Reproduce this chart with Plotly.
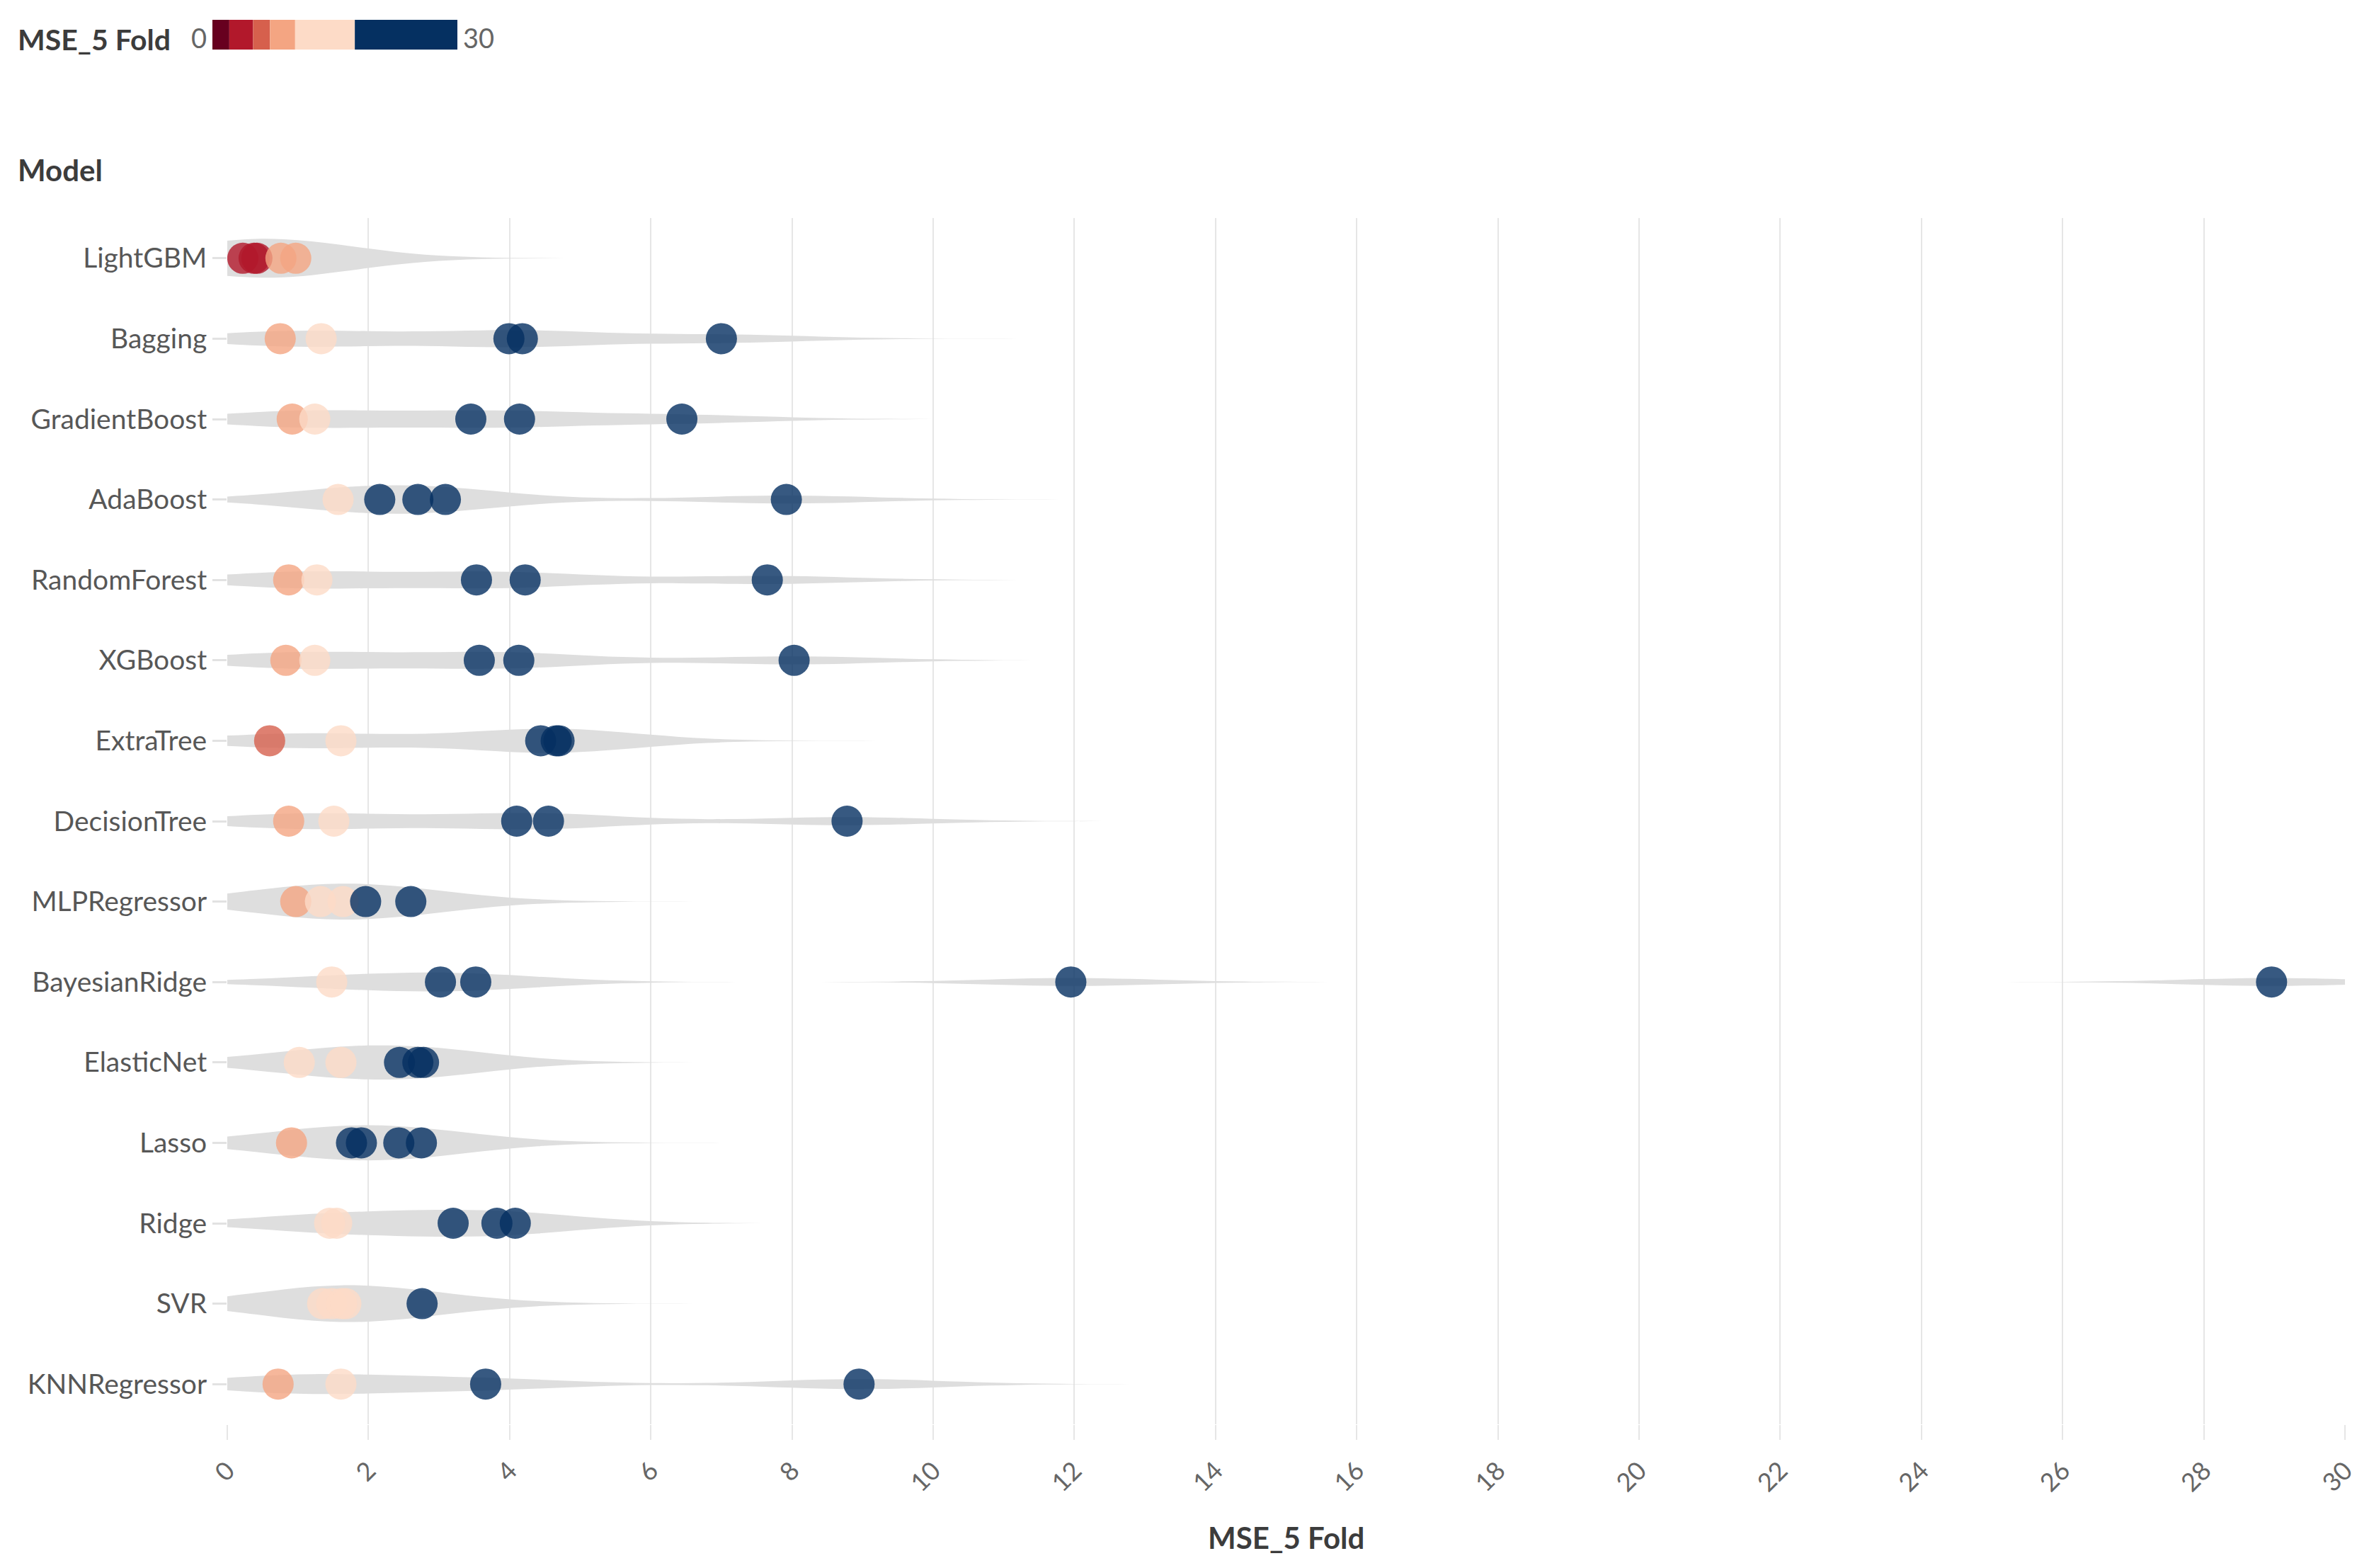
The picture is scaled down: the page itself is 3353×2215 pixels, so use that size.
import plotly.graph_objects as go

# ---------------- data ----------------
models = ["LightGBM", "Bagging", "GradientBoost", "AdaBoost", "RandomForest", "XGBoost",
          "ExtraTree", "DecisionTree", "MLPRegressor", "BayesianRidge", "ElasticNet",
          "Lasso", "Ridge", "SVR", "KNNRegressor"]

mse_lightgbm = [0.22, 0.38, 0.42, 0.76, 0.97]
mse_bagging = [0.75, 1.33, 3.99, 4.18, 7.00]
mse_gradientboost = [0.92, 1.24, 3.45, 4.14, 6.44]
mse_adaboost = [1.57, 2.16, 2.70, 3.09, 7.92]
mse_randomforest = [0.87, 1.27, 3.53, 4.22, 7.65]
mse_xgboost = [0.83, 1.24, 3.57, 4.13, 8.03]
mse_extratree = [0.60, 1.61, 4.44, 4.66, 4.70]
mse_decisiontree = [0.87, 1.51, 4.10, 4.55, 8.78]
mse_mlp = [0.97, 1.32, 1.64, 1.96, 2.60]
mse_bayesianridge = [1.48, 3.02, 3.52, 11.95, 28.96]
mse_elasticnet = [1.02, 1.61, 2.44, 2.70, 2.78]
mse_lasso = [0.91, 1.76, 1.90, 2.43, 2.75]
mse_ridge = [1.45, 1.55, 3.20, 3.82, 4.08]
mse_svr = [1.35, 1.48, 1.62, 1.68, 2.76]
mse_knn = [0.72, 1.61, 3.66, 8.95]

mse_by_model = [mse_lightgbm, mse_bagging, mse_gradientboost, mse_adaboost, mse_randomforest,
                mse_xgboost, mse_extratree, mse_decisiontree, mse_mlp, mse_bayesianridge,
                mse_elasticnet, mse_lasso, mse_ridge, mse_svr, mse_knn]

x_ticks = list(range(0, 31, 2))

# colour bins for the points (upper bounds) and their colours
color_bounds = [0.5, 0.7, 1.0, 1.75, 1e9]
color_bins = ["#b2182b", "#d6604d", "#f4a582", "#fddbc7", "#053061"]

# legend colour bar bands (0 – 30 scale)
legend_edges = [0, 2.07, 4.98, 7.05, 10.13, 17.44, 30]
legend_colors = ["#67001f", "#b2182b", "#d6604d", "#f4a582", "#fddbc7", "#053061"]

# ---------------- build ----------------
xs, ys = [], []
for m, vals in zip(models, mse_by_model):
    for v in vals:
        xs.append(v)
        ys.append(m)


def pick_color(v):
    for b, c in zip(color_bounds, color_bins):
        if v < b:
            return c
    return color_bins[-1]


pt_colors = [pick_color(v) for v in xs]

# page has an 8px body margin: size the figure so it fits the window exactly
OFF = 8
W, H = 3353 - 2 * OFF, 2215 - 2 * OFF


def fx(p):  # screen x pixel -> paper fraction
    return (p - OFF) / W


def fy(p):  # screen y pixel -> paper fraction (from bottom)
    return 1 - (p - OFF) / H


px0, px1 = 321, 3312          # x=0 and x=30 pixel positions (screen)
py_top, py_bot = 308, 2012    # plot area top / bottom (screen)

FONT = "Lato"
TXT = "#575757"

fig = go.Figure()

fig.add_trace(go.Violin(
    x=xs, y=ys, orientation="h",
    bandwidth=1.2, spanmode="manual", span=[0, 30],
    width=0.48, points=False,
    fillcolor="#dedede", line=dict(width=0, color="#dedede"),
    box_visible=False, meanline_visible=False,
    hoverinfo="skip", showlegend=False,
))

fig.add_trace(go.Scatter(
    x=xs, y=ys, mode="markers",
    marker=dict(size=44, color=pt_colors, opacity=0.8, line=dict(width=0)),
    showlegend=False,
))

# legend colour bar
fig.add_trace(go.Bar(
    x=[legend_edges[i + 1] - legend_edges[i] for i in range(len(legend_colors))],
    base=legend_edges[:-1],
    y=[0] * len(legend_colors),
    orientation="h", width=1,
    marker=dict(color=legend_colors, line=dict(width=0)),
    xaxis="x2", yaxis="y2", showlegend=False, hoverinfo="skip",
))

fig.update_layout(
    width=W, height=H,
    margin=dict(l=0, r=0, t=0, b=0, pad=0),
    paper_bgcolor="white", plot_bgcolor="white",
    font=dict(family=FONT, color=TXT),
    showlegend=False,
    violinmode="overlay",
    barmode="overlay",
    xaxis=dict(
        domain=[fx(px0), fx(px1)], range=[0, 30], automargin=False,
        tickvals=x_ticks, ticktext=[str(t) for t in x_ticks],
        tickangle=-45, tickfont=dict(size=36, color="#666666"),
        ticklabelstandoff=8,
        showgrid=True, gridcolor="#e6e6e6", gridwidth=2,
        zeroline=False, showline=False,
        ticks="outside", ticklen=21, tickwidth=2, tickcolor="#e6e6e6",
    ),
    yaxis=dict(
        domain=[fy(py_bot), fy(py_top)], automargin=False,
        type="category", categoryorder="array", categoryarray=models,
        range=[len(models) - 0.5, -0.5],
        showgrid=False, zeroline=False, showline=False,
        ticks="outside", ticklen=20, tickwidth=3, tickcolor="#e2e2e2",
        tickfont=dict(size=39, color=TXT),
    ),
    xaxis2=dict(domain=[fx(300), fx(646)], range=[0, 30], visible=False,
                fixedrange=True, automargin=False),
    yaxis2=dict(domain=[fy(70), fy(28)], range=[-0.5, 0.5], visible=False,
                fixedrange=True, automargin=False),
)

ann = [
    dict(text="<b>MSE_5 Fold</b>", x=fx(23), y=fy(55), xanchor="left", yanchor="middle",
         font=dict(size=41, color="#3c3c3c")),
    dict(text="0", x=fx(268), y=fy(53), xanchor="left", yanchor="middle",
         font=dict(size=38, color="#666666")),
    dict(text="30", x=fx(652), y=fy(53), xanchor="left", yanchor="middle",
         font=dict(size=38, color="#666666")),
    dict(text="<b>Model</b>", x=fx(23), y=fy(240), xanchor="left", yanchor="middle",
         font=dict(size=42, color="#3c3c3c")),
    dict(text="<b>MSE_5 Fold</b>", x=fx(1816), y=fy(2172), xanchor="center",
         yanchor="middle", font=dict(size=42, color="#3c3c3c")),
]
for a in ann:
    a.update(xref="paper", yref="paper", showarrow=False)
fig.update_layout(annotations=ann)

fig.write_html("out.html")
